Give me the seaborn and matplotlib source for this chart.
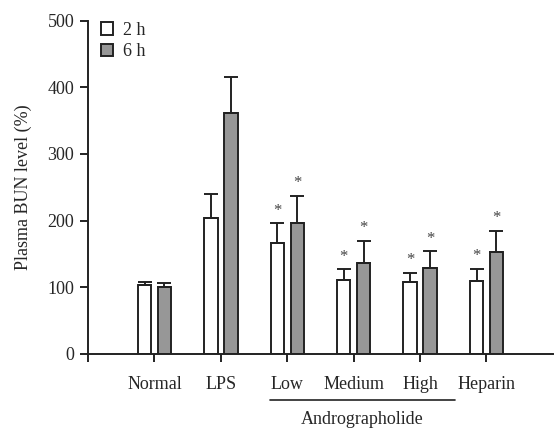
import numpy as np
import pandas as pd
import seaborn as sns
import matplotlib.pyplot as plt
import matplotlib.transforms as mtransforms

# Valores
groups = ["Normal", "LPS", "Low", "Medium", "High", "Heparin"]
bun_2h = [103, 204, 166, 111, 108, 110]
bun_6h = [100, 362, 196, 136, 129, 153]
sem_2h = [5, 36, 30, 16, 14, 18]
sem_6h = [7, 54, 41, 34, 25, 32]
star_2h = [False, False, True, True, True, True]
star_6h = [False, False, True, True, True, True]

sns.set_style("ticks")
plt.rcParams["font.family"] = ["Liberation Serif", "DejaVu Serif"]
plt.rcParams["font.size"] = 13

df = pd.DataFrame({
    "group": groups * 2,
    "time": ["2 h"] * 6 + ["6 h"] * 6,
    "bun": bun_2h + bun_6h,
})

fig = plt.figure(figsize=(5.54, 4.28), dpi=100)
ax = fig.add_axes([0.159, 0.173, 0.839, 0.779])

sns.barplot(data=df, x="group", y="bun", hue="time", order=groups,
            hue_order=["2 h", "6 h"], palette=["white", "#979797"],
            width=0.6, gap=0.33, edgecolor="#222222", linewidth=1.4,
            errorbar=None, ax=ax)

# Barras de erro (só para cima) e asteriscos
for cont, errs, stars in zip(ax.containers, [sem_2h, sem_6h], [star_2h, star_6h]):
    xs = [p.get_x() + p.get_width() / 2 for p in cont.patches]
    hs = [p.get_height() for p in cont.patches]
    ax.errorbar(xs, hs, yerr=[np.zeros(len(errs)), errs], fmt="none",
                ecolor="#222222", elinewidth=1.4, capsize=5, capthick=1.4)
    for x, h, e, s in zip(xs, hs, errs, stars):
        if s:
            ax.text(x, h + e + 7, "*", ha="center", va="bottom",
                    fontsize=12, color="#444444")

ax.set_xlim(-1, 6)
ax.set_ylim(0, 500)
ax.set_yticks([0, 100, 200, 300, 400, 500])
ax.set_xticks(range(-1, 6))
ax.set_xticklabels([""] + groups)
ax.tick_params(axis="both", length=6, width=1.4, color="#222222",
               labelsize=13, pad=4)
ax.tick_params(axis="x", pad=10)
ax.set_xlabel("")
ax.set_ylabel("Plasma BUN level (%)", fontsize=13, labelpad=11)
for sp in ["top", "right"]:
    ax.spines[sp].set_visible(False)
for sp in ["left", "bottom"]:
    ax.spines[sp].set_linewidth(1.4)
    ax.spines[sp].set_color("#222222")

# Linha e rótulo do Andrographolide
trans = mtransforms.blended_transform_factory(ax.transData, ax.transAxes)
ax.plot([1.74, 4.52], [-0.138, -0.138], color="#222222", lw=1.2,
        transform=trans, clip_on=False)
ax.text(3.13, -0.198, "Andrographolide", ha="center", va="center",
        transform=trans, fontsize=13)

leg = ax.legend(loc="upper left", bbox_to_anchor=(-0.008, 1.045), frameon=False,
                handlelength=0.7, handleheight=0.7, handletextpad=0.55,
                labelspacing=0.25, fontsize=13)

fig.savefig("out.png", dpi=100)
